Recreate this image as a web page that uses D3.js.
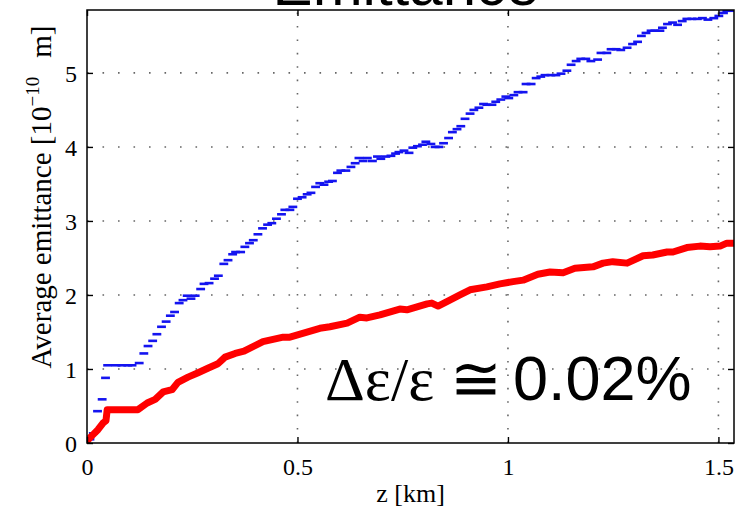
<!DOCTYPE html>
<html>
<head>
<meta charset="utf-8">
<script src="https://cdn.jsdelivr.net/npm/d3@7/dist/d3.min.js"></script>
<style>
  body { margin: 0; background: #fff; }
  svg { display: block; }
</style>
</head>
<body>
<svg id="chart"></svg>
<script>
// Blue series: dash centres (z in km, emittance in 1e-10 m)
var blueZ = [0.007, 0.015, 0.025, 0.036, 0.044, 0.049, 0.069, 0.083, 0.097, 0.107,
    0.124, 0.135, 0.145, 0.156, 0.166, 0.177, 0.188, 0.198, 0.208, 0.219,
    0.228, 0.238, 0.247, 0.257, 0.270, 0.278, 0.290, 0.303, 0.312, 0.325,
    0.335, 0.346, 0.353, 0.365, 0.375, 0.386, 0.395, 0.406, 0.417, 0.429,
    0.439, 0.450, 0.462, 0.470, 0.482, 0.489, 0.500, 0.511, 0.523, 0.532,
    0.543, 0.553, 0.563, 0.574, 0.583, 0.595, 0.603, 0.615, 0.627, 0.637,
    0.646, 0.656, 0.666, 0.678, 0.690, 0.698, 0.710, 0.722, 0.733, 0.741,
    0.753, 0.765, 0.774, 0.785, 0.797, 0.805, 0.817, 0.827, 0.836, 0.847,
    0.859, 0.868, 0.879, 0.888, 0.898, 0.910, 0.919, 0.931, 0.942, 0.950,
    0.962, 0.971, 0.983, 0.995, 1.002, 1.014, 1.024, 1.036, 1.043, 1.055,
    1.067, 1.078, 1.088, 1.102, 1.114, 1.126, 1.140, 1.150, 1.162, 1.173,
    1.185, 1.197, 1.213, 1.221, 1.235, 1.245, 1.257, 1.268, 1.283, 1.296,
    1.308, 1.317, 1.328, 1.340, 1.349, 1.361, 1.367, 1.379, 1.391, 1.403,
    1.414, 1.425, 1.437, 1.450, 1.462, 1.475, 1.489, 1.501, 1.512, 1.520,
    1.532];
var blueE = [0.05, 0.13, 0.43, 0.59, 0.88, 1.05, 1.05, 1.05, 1.05, 1.05,
    1.08, 1.21, 1.31, 1.38, 1.47, 1.57, 1.64, 1.72, 1.77, 1.89,
    1.93, 1.99, 1.95, 1.99, 2.08, 2.15, 2.16, 2.22, 2.26, 2.42,
    2.47, 2.55, 2.58, 2.58, 2.65, 2.70, 2.74, 2.82, 2.90, 2.95,
    2.97, 3.03, 3.09, 3.15, 3.15, 3.19, 3.30, 3.32, 3.36, 3.38,
    3.46, 3.51, 3.49, 3.53, 3.54, 3.65, 3.68, 3.68, 3.73, 3.78,
    3.85, 3.81, 3.85, 3.81, 3.87, 3.84, 3.87, 3.88, 3.91, 3.93,
    3.95, 3.92, 3.99, 4.01, 4.03, 4.07, 4.04, 4.00, 4.00, 4.05,
    4.12, 4.20, 4.24, 4.28, 4.38, 4.45, 4.50, 4.53, 4.58, 4.57,
    4.57, 4.61, 4.64, 4.68, 4.66, 4.70, 4.74, 4.74, 4.85, 4.85,
    4.93, 4.95, 4.97, 4.97, 4.97, 4.99, 5.03, 5.11, 5.16, 5.19,
    5.19, 5.16, 5.18, 5.27, 5.27, 5.32, 5.32, 5.31, 5.34, 5.39,
    5.42, 5.50, 5.54, 5.57, 5.57, 5.57, 5.61, 5.66, 5.68, 5.65,
    5.70, 5.73, 5.73, 5.73, 5.74, 5.72, 5.74, 5.77, 5.81, 5.84,
    5.84];

// Red series
var redZ = [0.002, 0.012, 0.026, 0.038, 0.045, 0.048, 0.121, 0.143, 0.162, 0.181,
    0.202, 0.216, 0.240, 0.264, 0.287, 0.311, 0.328, 0.352, 0.373, 0.418,
    0.466, 0.482, 0.553, 0.577, 0.618, 0.648, 0.665, 0.696, 0.743, 0.760,
    0.808, 0.819, 0.834, 0.855, 0.886, 0.910, 0.950, 0.981, 1.012, 1.036,
    1.071, 1.100, 1.131, 1.159, 1.202, 1.226, 1.249, 1.283, 1.321, 1.344,
    1.378, 1.392, 1.425, 1.456, 1.480, 1.504, 1.520, 1.539];
var redE = [0.04, 0.10, 0.18, 0.27, 0.30, 0.45, 0.45, 0.54, 0.59, 0.69,
    0.72, 0.82, 0.89, 0.95, 1.01, 1.07, 1.16, 1.21, 1.24, 1.37,
    1.43, 1.43, 1.55, 1.57, 1.62, 1.70, 1.69, 1.73, 1.81, 1.80,
    1.88, 1.89, 1.85, 1.91, 2.00, 2.07, 2.11, 2.15, 2.18, 2.20,
    2.28, 2.31, 2.30, 2.36, 2.38, 2.43, 2.45, 2.43, 2.53, 2.54,
    2.58, 2.58, 2.64, 2.66, 2.65, 2.66, 2.70, 2.70];

var xTicks = [0, 0.5, 1, 1.5];
var xTickLabels = ["0", "0.5", "1", "1.5"];
var yTicks = [0, 1, 2, 3, 4, 5];

var W = 742, H = 507;
var margin = { top: 10, right: 8, bottom: 64, left: 87 };
var width  = W - margin.left - margin.right;
var height = H - margin.top - margin.bottom;

var serif = "Liberation Serif";
var sans  = "Liberation Sans";

var x = d3.scaleLinear().domain([0, 1.537]).range([0, width]);
var y = d3.scaleLinear().domain([0, 5.85]).range([height, 0]);

var root = d3.select("#chart").attr("width", W).attr("height", H);
root.append("rect").attr("width", W).attr("height", H).attr("fill", "#fff");

var svg = root.append("g")
    .attr("transform", "translate(" + margin.left + "," + margin.top + ")");

svg.append("defs").append("clipPath").attr("id", "plot-clip")
    .append("rect").attr("width", width).attr("height", height);

// Dotted grid
var grid = svg.append("g").attr("stroke", "#666").attr("stroke-width", 1.6).attr("fill", "none");
grid.selectAll(".gx").data(xTicks.slice(1)).enter().append("line")
    .attr("x1", d => x(d)).attr("x2", d => x(d))
    .attr("y1", height).attr("y2", 0)
    .attr("stroke-dasharray", "1.6,11.8");
grid.selectAll(".gy").data(yTicks.slice(1)).enter().append("line")
    .attr("x1", 0).attr("x2", width)
    .attr("y1", d => y(d)).attr("y2", d => y(d))
    .attr("stroke-dasharray", "1.6,13.9");

var plot = svg.append("g").attr("clip-path", "url(#plot-clip)");

// Blue dashes
var dashHalf = 0.0105;
var blue = blueZ.map((z, i) => ({ z: z, e: blueE[i] }));
plot.append("g").selectAll("line").data(blue).enter().append("line")
    .attr("x1", d => x(d.z - dashHalf)).attr("x2", d => x(d.z + dashHalf))
    .attr("y1", d => y(d.e)).attr("y2", d => y(d.e))
    .attr("stroke", "#1414f0").attr("stroke-width", 2.6);

// Red line
var red = redZ.map((z, i) => ({ z: z, e: redE[i] }));
plot.append("path").datum(red)
    .attr("d", d3.line().x(d => x(d.z)).y(d => y(d.e)))
    .attr("fill", "none").attr("stroke", "#ff0000")
    .attr("stroke-width", 7).attr("stroke-linejoin", "round").attr("stroke-linecap", "round");

// Axes with inward ticks on all four sides
function styleAxis(g) {
    g.select(".domain").remove();
    g.selectAll("line").attr("stroke", "#000").attr("stroke-width", 1.4);
    g.selectAll("text").attr("fill", "#000")
        .attr("font-family", serif).attr("font-size", 24);
}

svg.append("g").attr("transform", "translate(0," + height + ")")
    .call(d3.axisBottom(x).tickValues(xTicks).tickFormat((d, i) => xTickLabels[i])
        .tickSizeInner(-6).tickSizeOuter(0).tickPadding(15))
    .call(styleAxis);
svg.append("g")
    .call(d3.axisTop(x).tickValues(xTicks).tickFormat("").tickSizeInner(-6).tickSizeOuter(0))
    .call(styleAxis);
var yAxisG = svg.append("g")
    .call(d3.axisLeft(y).tickValues(yTicks).tickFormat(d3.format("d"))
        .tickSizeInner(-6).tickSizeOuter(0).tickPadding(10))
    .call(styleAxis);
yAxisG.selectAll("text").attr("dy", "0.36em");
svg.append("g").attr("transform", "translate(" + width + ",0)")
    .call(d3.axisRight(y).tickValues(yTicks).tickFormat("").tickSizeInner(-6).tickSizeOuter(0))
    .call(styleAxis);

// Frame
svg.append("rect").attr("width", width).attr("height", height)
    .attr("fill", "none").attr("stroke", "#000").attr("stroke-width", 1.5);

// Title (cut off at the top of the picture)
root.append("text")
    .attr("x", 406).attr("y", 5)
    .attr("text-anchor", "middle")
    .attr("font-family", sans).attr("font-size", 60)
    .text("Emittance");

// Axis titles
svg.append("text")
    .attr("x", width / 2).attr("y", height + 59)
    .attr("text-anchor", "middle")
    .attr("font-family", serif).attr("font-size", 26)
    .text("z [km]");

var yl = root.append("text")
    .attr("transform", "translate(51,197) rotate(-90)")
    .attr("text-anchor", "middle")
    .attr("font-family", serif).attr("font-size", 29);
yl.append("tspan").text("Average emittance [10");
yl.append("tspan").attr("dy", -12).attr("font-size", 19).text("\u221210");
yl.append("tspan").attr("dy", 12).attr("dx", 19).text("m]");

// Annotation: Times part, then Arial part
root.append("text").attr("x", 325).attr("y", 400)
    .attr("font-family", serif).attr("font-size", 62)
    .text("\u0394\u03b5/\u03b5 \u2245");
root.append("text").attr("x", 513).attr("y", 400)
    .attr("font-family", sans).attr("font-size", 63)
    .text("0.02%");
</script>
</body>
</html>
